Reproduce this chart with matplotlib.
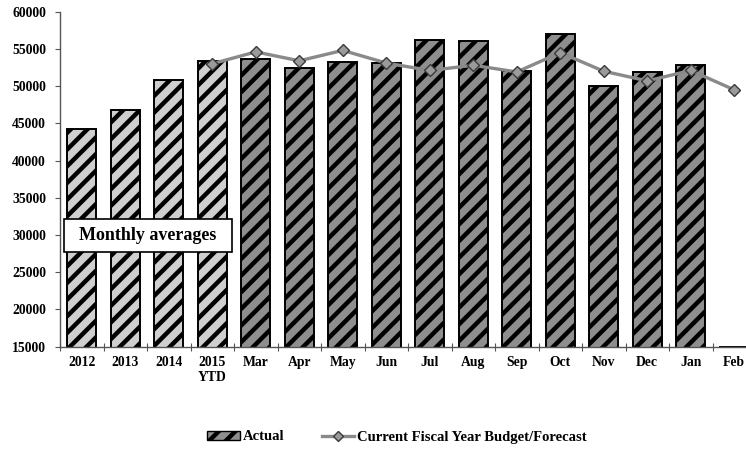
import matplotlib
matplotlib.use("Agg")
import matplotlib.pyplot as plt
from matplotlib.lines import Line2D
from matplotlib.patches import Patch, Rectangle
import numpy as np

categories = ["2012", "2013", "2014", "2015\nYTD", "Mar", "Apr", "May", "Jun",
              "Jul", "Aug", "Sep", "Oct", "Nov", "Dec", "Jan", "Feb"]
actual = [44300, 46800, 50800, 53400, 53700, 52500, 53300, 53100,
          56200, 56000, 52000, 57000, 50000, 51900, 52800, 15000]
# budget/forecast starts at the 2015 YTD bar
budget = [np.nan, np.nan, np.nan, 53000, 54600, 53400, 54800, 53100,
          52100, 52800, 51900, 54500, 52000, 50700, 52100, 49500]
n_annual = 4

plt.rcParams['font.family'] = ['Liberation Serif', 'DejaVu Serif']
plt.rcParams['font.weight'] = 'bold'
plt.rcParams['hatch.linewidth'] = 3.2

fig = plt.figure(figsize=(7.46, 4.51), dpi=100)
ax = fig.add_axes([60 / 746, (451 - 346.5) / 451, 696 / 746, 334.8 / 451])

x = np.arange(len(categories))
colors = ['#cfcfcf'] * n_annual + ['#8e8e8e'] * (len(categories) - n_annual)
ax.bar(x, actual, width=0.67, color=colors, edgecolor='black',
       linewidth=1.4, hatch='//', zorder=2)
ax.plot(x, budget, color='#8a8a8a', lw=2.4, marker='D', ms=6.5,
        mfc='#9a9a9a', mec='#3a3a3a', mew=1.0, zorder=3)

ax.set_xlim(-0.5, len(categories) - 0.5)
ax.set_ylim(15000, 60000)
ax.set_yticks(np.arange(15000, 60001, 5000))
ax.set_xticks(x)
ax.set_xticklabels(categories)
ax.set_xticks(np.arange(-0.5, len(categories), 1), minor=True)

for s in ['top', 'right']:
    ax.spines[s].set_visible(False)
for s in ['left', 'bottom']:
    ax.spines[s].set_color('#555555')
    ax.spines[s].set_linewidth(1.0)

ax.tick_params(axis='y', length=3.5, width=0.8, color='#555555', pad=6.5,
               labelsize=9.8)
ax.tick_params(axis='x', which='major', length=0, pad=7, labelsize=9.8)
ax.tick_params(axis='x', which='minor', length=6, direction='inout',
               width=0.8, color='#555555')

# "Monthly averages" label box
ax.add_patch(Rectangle((4 / 696, 0.282), 168 / 696, 0.099,
                       transform=ax.transAxes, fc='white', ec='black',
                       lw=1.2, zorder=5, clip_on=False))
ax.text(88 / 696, 0.332, "Monthly averages", transform=ax.transAxes,
        fontsize=13, ha='center', va='center', zorder=6)

handles = [Patch(facecolor='#8e8e8e', edgecolor='black', hatch='//', lw=1.0),
           Line2D([], [], color='#8a8a8a', lw=2.4, marker='D', ms=5,
                  mfc='#9a9a9a', mec='#3a3a3a')]
fig.legend(handles, ["Actual", "Current Fiscal Year Budget/Forecast"],
           loc='center', bbox_to_anchor=(397 / 746, 1 - 437 / 451),
           ncol=2, frameon=False, fontsize=10.5, handlelength=2.2,
           handleheight=0.6, handletextpad=0.2, columnspacing=2.6)

fig.savefig('out.png', dpi=100)
plt.close(fig)
